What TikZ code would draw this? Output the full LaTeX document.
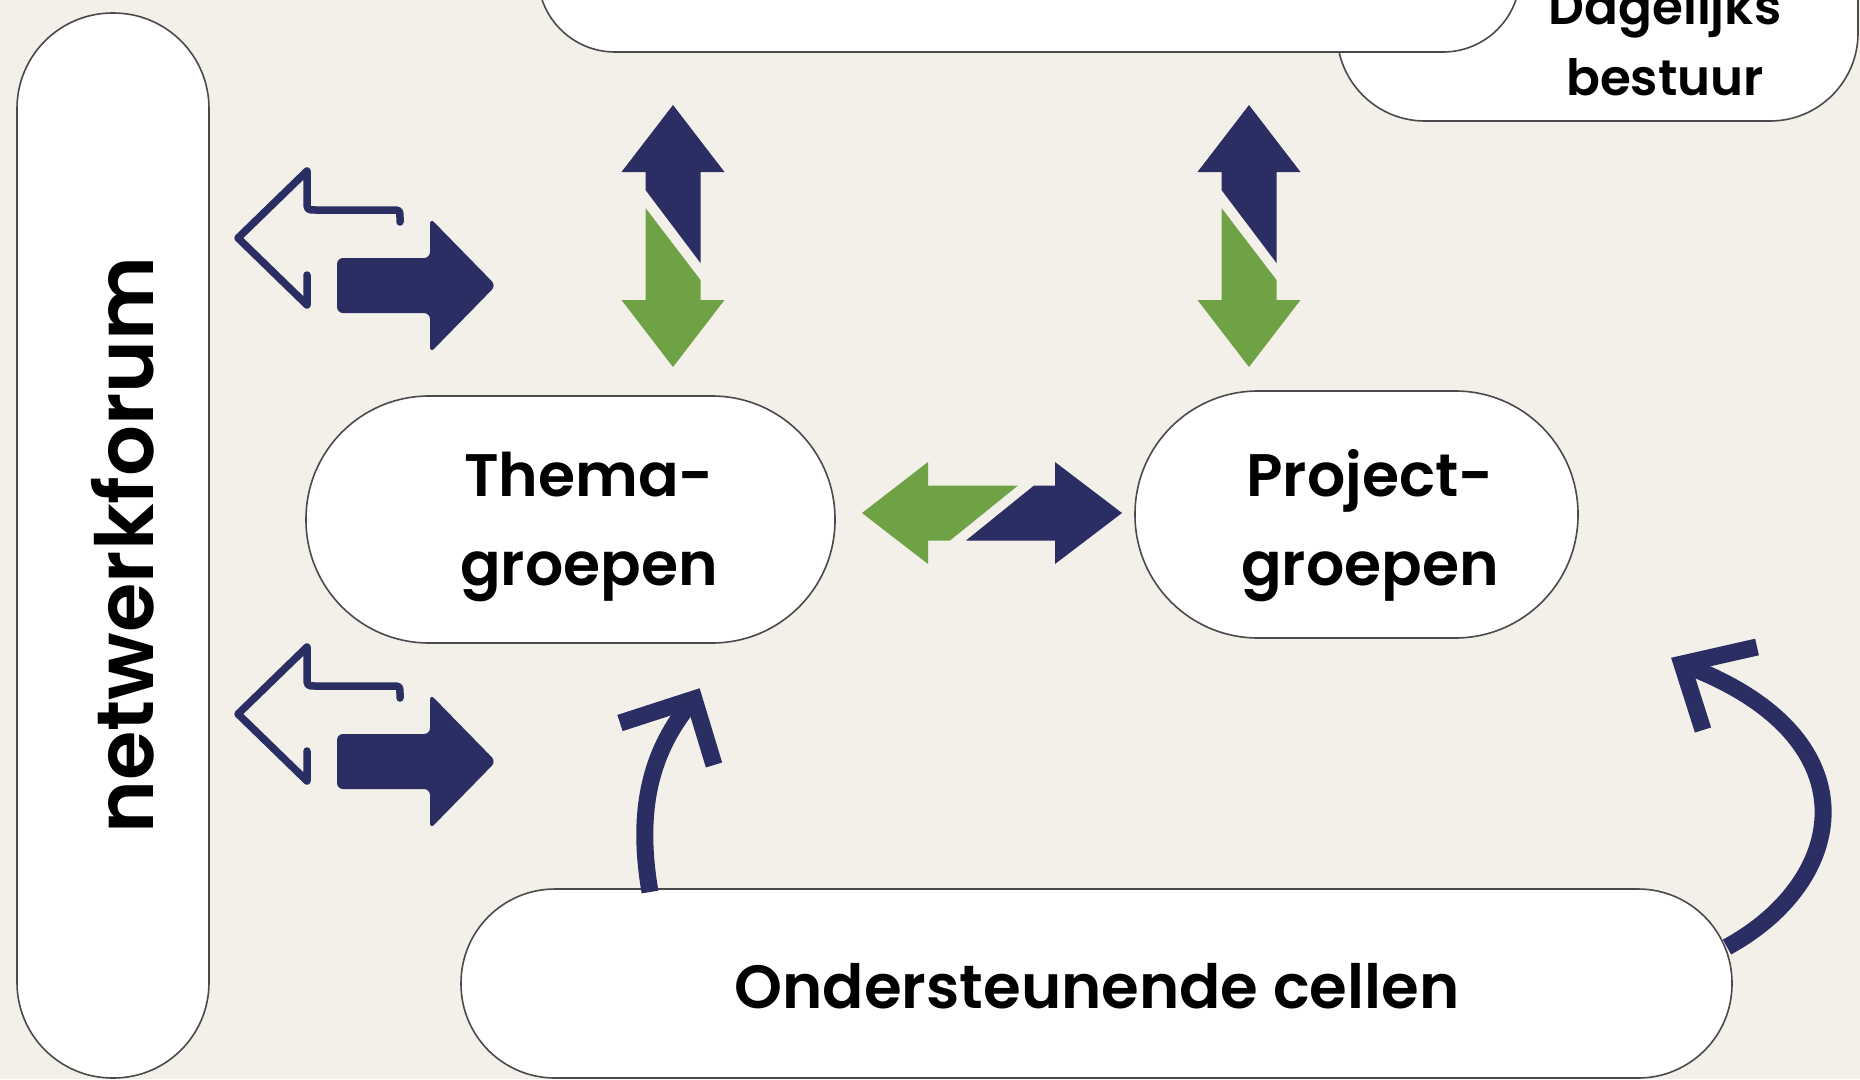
\documentclass[tikz,border=0pt]{standalone}
\usepackage{fontspec}
\setmainfont{Poppins}[BoldFont={Poppins SemiBold}]
\definecolor{bgc}{HTML}{F3EFE9}
\definecolor{navy}{HTML}{2B2E63}
\definecolor{leaf}{HTML}{6FA245}
\definecolor{edge}{HTML}{4A4A4A}
\begin{document}
\begin{tikzpicture}[x=1pt,y=-1pt,
  box/.style={draw=edge, line width=1.6pt, fill=white, rectangle, inner sep=0pt},
  lbl/.style={anchor=base, inner sep=0pt, font=\bfseries\fontsize{60}{72}\selectfont},
  small/.style={anchor=base, inner sep=0pt, font=\bfseries\fontsize{50}{60}\selectfont},
  navyfill/.style={fill=navy},
  leaffill/.style={fill=leaf},
  outline/.style={draw=navy, line width=7.5pt, line join=round, line cap=round},
  curvearrow/.style={draw=navy, line width=17pt},
  armstyle/.style={draw=navy, line width=17pt, line join=miter}]
\useasboundingbox (0,0) rectangle (1860,1079);
\fill[bgc] (0,0) rectangle (1860,1079);
\clip (0,0) rectangle (1860,1079);

% boxes
\node[box, rounded corners=88pt, minimum width=521pt, minimum height=221pt] (db) at (1597.5,10.5) {};
\node[box, rounded corners=77pt, minimum width=982pt, minimum height=202pt] (top) at (1029,-49) {};
\node[box, rounded corners=95.5pt, minimum width=192pt, minimum height=1065pt] (forum) at (113,545.5) {};
\node[box, rounded corners=123pt, minimum width=529pt, minimum height=247pt] (thema) at (570.5,519.5) {};
\node[box, rounded corners=123pt, minimum width=443pt, minimum height=247pt] (project) at (1356.5,514.5) {};
\node[box, rounded corners=94pt, minimum width=1271pt, minimum height=189pt] (cellen) at (1096.5,983.5) {};

% labels
\node[small] (dag1) at (1665,24) {Dagelijks};
\node[small] (dag2) at (1665,95) {bestuur};
\node[lbl] (th1) at (589,496) {Thema-};
\node[lbl] (th2) at (589,585) {groepen};
\node[lbl] (pr1) at (1370,496) {Project-};
\node[lbl] (pr2) at (1370,585) {groepen};
\node[lbl, font=\bfseries\fontsize{61}{72}\selectfont] (oc) at (1097,1008) {Ondersteunende cellen};
\node[lbl, rotate=90, font=\bfseries\fontsize{80}{92}\selectfont] (nf) at (153,545) {netwerkforum};

% vertical double arrows
\foreach \cx in {673,1249}{
  \begin{scope}[shift={(\cx,0)}]
    \fill[navyfill] (0,105) -- (51.5,172) -- (27.5,172) -- (27.5,263) -- (-27.5,190) -- (-27.5,172) -- (-51.5,172) -- cycle;
    \fill[leaffill] (0,367) -- (-51.5,300) -- (-27.5,300) -- (-27.5,208) -- (27.5,280) -- (27.5,300) -- (51.5,300) -- cycle;
  \end{scope}
}

% horizontal double arrow
\fill[leaffill] (862,513) -- (928,462) -- (928,485.5) -- (1018,485.5) -- (950,540.5) -- (928,540.5) -- (928,564) -- cycle;
\fill[navyfill] (1122,513) -- (1055,564) -- (1055,540.5) -- (966,540.5) -- (1034,485.5) -- (1055,485.5) -- (1055,462) -- cycle;

% left exchange arrows
\foreach \dy in {0,476}{
  \begin{scope}[shift={(0,\dy)}]
    \draw[outline] (307,275) -- (307,305) -- (238,238) -- (307,171) -- (307,201)
      .. controls (307,210) .. (316,210) -- (392,210) .. controls (400,210) .. (400,218) -- (400,222);
    \fill[navyfill, rounded corners=6pt] (430,258) -- (430,218) -- (496,285.5) -- (430,353) -- (430,313) -- (337,313) -- (337,258) -- cycle;
  \end{scope}
}

% curved arrows
\coordinate (c1s) at (650,892);
\coordinate (c1t) at (694,699);
\coordinate (c1a) at (620,723);
\coordinate (c1b) at (714,765);
\draw[curvearrow] (c1s) .. controls (636,810) and (650,750) .. (c1t);
\draw[armstyle] (c1a) -- (c1t) -- (c1b);

\coordinate (c2s) at (1727,947);
\coordinate (c2t) at (1682,664);
\coordinate (c2a) at (1757,647);
\coordinate (c2b) at (1703,730);
\draw[curvearrow] (c2s) .. controls (1850,880) and (1875,735) .. (c2t);
\draw[armstyle] (c2a) -- (c2t) -- (c2b);
\end{tikzpicture}
\end{document}
